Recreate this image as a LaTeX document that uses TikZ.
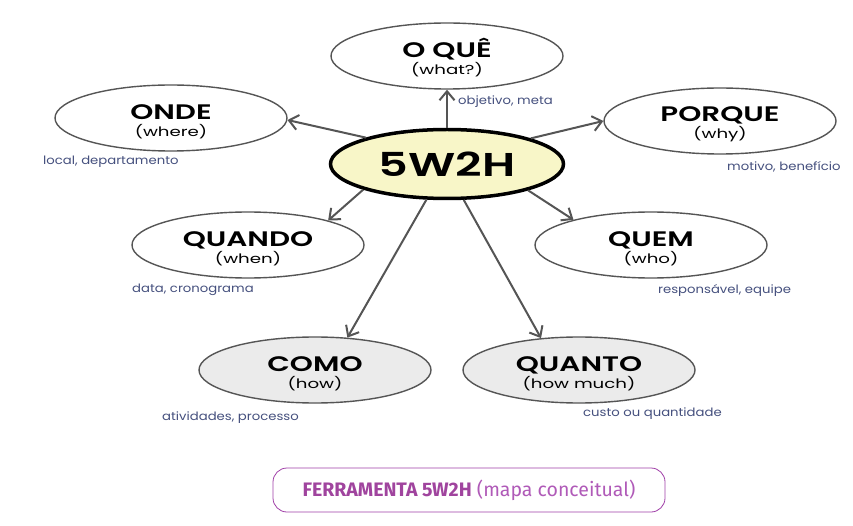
\documentclass[tikz,border=0pt]{standalone}
\usepackage{fontspec}
\setmainfont{Poppins}
\newfontfamily\titlef{Poppins}[FakeStretch=1.4,UprightFont={* SemiBold}]
\newfontfamily\subf{Poppins}[FakeStretch=1.4]
\newfontfamily\annf{Poppins}[FakeStretch=1.15]
\newfontfamily\capf{Fira Sans}
\usetikzlibrary{shapes.geometric,arrows.meta}
\definecolor{edgegray}{HTML}{555555}
\definecolor{arrgray}{HTML}{555555}
\definecolor{centerfill}{HTML}{F8F6C8}
\definecolor{lowfill}{HTML}{EBEBEB}
\definecolor{anncol}{HTML}{45507E}
\definecolor{capline}{HTML}{A040A8}
\definecolor{capbold}{HTML}{A0449E}
\definecolor{caplight}{HTML}{B05AB8}
\newcommand{\ttl}[1]{{\rule{0pt}{22pt}\titlef\fontsize{21}{21}\selectfont #1}}
\newcommand{\sbt}[1]{{\subf\fontsize{13}{17}\selectfont #1}}
\begin{document}
\begin{tikzpicture}[x=1pt,y=-1pt,
  bub/.style={ellipse,draw=edgegray,line width=1.4pt,minimum width=232pt,minimum height=66pt,
    inner sep=0pt,align=center,fill=white,font=\subf\fontsize{13}{17}\selectfont},
  lowbub/.style={bub,fill=lowfill},
  hub/.style={ellipse,draw=black,line width=3.5pt,minimum width=233pt,minimum height=69pt,
    inner sep=0pt,fill=centerfill,font=\titlef\fontsize{33}{33}\selectfont},
  arr/.style={draw=arrgray,line width=2pt,-{Straight Barb[length=9pt,width=15pt]}},
  ann/.style={anchor=west,inner sep=0pt,text=anncol,font=\annf\fontsize{11.5}{13}\selectfont},
  capbox/.style={draw=capline,line width=0.8pt,rounded corners=14pt,minimum width=392pt,
    minimum height=44pt,inner sep=0pt,font=\capf\fontsize{19.5}{21}\selectfont}
]
\useasboundingbox[fill=white] (0,0) rectangle (853,526);

\node[bub] (oque) at (447,56) {\ttl{O QUÊ}\\\sbt{(what?)}};
\node[bub] (onde) at (171,118) {\ttl{ONDE}\\\sbt{(where)}};
\node[bub] (porque) at (720,121) {\ttl{PORQUE}\\\sbt{(why)}};
\node[bub] (quando) at (248,245) {\ttl{QUANDO}\\\sbt{(when)}};
\node[bub] (quem) at (651,245) {\ttl{QUEM}\\\sbt{(who)}};
\node[lowbub] (como) at (315,370) {\ttl{COMO}\\\sbt{(how)}};
\node[lowbub] (quanto) at (579,370) {\ttl{QUANTO}\\\sbt{(how much)}};
\node[hub] (hub) at (447,164) {5W2H};

\draw[arr] (hub.90) -- (oque.270);
\draw[arr] (hub.162.8) -- (onde.359);
\draw[arr] (hub.17.4) -- (porque.180);
\draw[arr] (hub.197.2) -- (quando.17.8);
\draw[arr] (hub.342.6) -- (quem.162.6);
\draw[arr] (hub.240.8) -- (como.45.8);
\draw[arr] (hub.295.2) -- (quanto.140);

\node[ann] (a1) at (458,102) {objetivo, meta};
\node[ann] (a2) at (43,162) {local, departamento};
\node[ann] (a3) at (727,167) {motivo, benefício};
\node[ann] (a4) at (132,290) {data, cronograma};
\node[ann] (a5) at (658,290) {responsável, equipe};
\node[ann] (a6) at (162,418) {atividades, processo};
\node[ann] (a7) at (583,414) {custo ou quantidade};

\node[capbox] (cap) at (469,490) {\textcolor{capbold}{\bfseries FERRAMENTA 5W2H} \textcolor{caplight}{(mapa conceitual)}};
\end{tikzpicture}
\end{document}
